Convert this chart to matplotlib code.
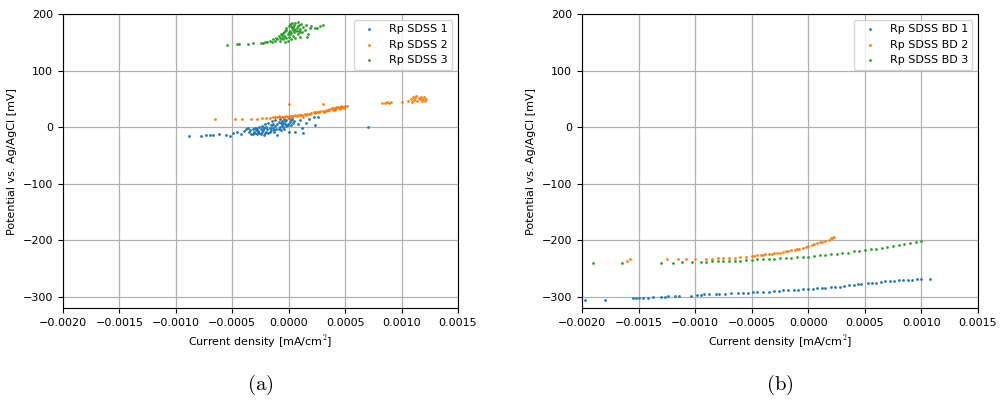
import matplotlib
matplotlib.use('Agg')
import matplotlib.pyplot as plt
import numpy as np

# Current density in units of 1e-4 mA/cm2, potential in mV
sdss1_x = [-8.8, -7.8, -7.3, -7.0, -6.7, -6.2, -5.6, -5.2, -4.9, -4.6, -4.2, -4.0, -3.8,
           -3.6, -3.5, -3.4, -3.3, -3.2, -3.1, -3.0, -3.0, -2.9, -2.8, -2.8, -2.7, -2.6,
           -2.6, -2.5, -2.4, -2.4, -2.3, -2.2, -2.2, -2.1, -2.0, -2.0, -1.9, -1.8, -1.8,
           -1.7, -1.6, -1.6, -1.5, -1.4, -1.4, -1.3, -1.2, -1.2, -1.1, -1.0, -1.0, -0.9,
           -0.8, -0.8, -0.7, -0.6, -0.6, -0.5, -0.4, -0.4, -0.3, -0.2, -0.2, -0.1, 0.0,
           0.0, 0.1, 0.2, 0.3, 0.5, 0.6, 0.8, 1.0, 1.2, 1.3, 1.5, 1.8, 2.2, 2.6, 2.3, 7.0,
           -3.2, -2.7, -2.5, -2.1, -1.7, -1.3, -0.9, -0.5, -0.1, 0.4, -2.9, -2.3, -1.5,
           -0.7, -0.3, 0.2]
sdss1_y = [-16, -15, -14, -14, -14, -13, -14, -15, -11, -8, -13, -7, -3,
           -2, -8, -5, -12, -3, -8, -1, -10, -6, -13, -3, -7, 0,
           -11, -4, -9, 2, -6, -14, -2, 5, -8, 1, -4, -11, 7,
           -1, 3, -6, 10, -2, 5, -9, 2, 12, -4, 6, -14, 9,
           1, 14, -6, 4, 11, 7, -3, 15, 10, 2, 13, 6, -8,
           16, 9, 3, 14, 11, -8, 5, 12, -2, -10, 8, 14, 18, 18, 3, 0,
           -13, -9, -12, -10, -8, -5, -3, 0, 3, 8, -1, 0, 3,
           8, 5, 12]

sdss2_x = [-6.5, -4.8, -4.1, -3.3, -2.8, -2.4, -2.0, -1.7, -1.4, -1.2, -1.0, -0.8, -0.6,
           -0.4, -0.2, 0.0, 0.2, 0.4, 0.6, 0.8, 1.0, 1.2, 1.4, 1.6, 1.8, 2.0, 2.2, 2.4,
           2.6, 2.8, 3.0, 3.2, 3.4, 3.5, 3.6, 3.7, 3.8, 3.9, 4.0, 4.1, 4.2, 4.3, 4.4,
           4.5, 4.6, 4.7, 4.8, 5.0, 5.2, 0.0, 3.0, -0.9, 1.3,
           8.3, 8.5, 8.7, 8.9, 9.1, 10.0, 10.6, 10.8, 10.9, 11.0, 11.1, 11.2, 11.3, 11.4,
           11.5, 11.6, 11.7, 11.8, 11.9, 12.0, 12.1, 12.2,
           -0.5, -0.1, 0.3, 0.7, 1.1, 1.5, 1.9, 2.3, 2.7, 3.1, 3.3, 4.1, 4.5, 4.9]
sdss2_y = [14, 14, 15, 15, 15, 16, 16, 16, 17, 17, 17, 18, 18,
           18, 19, 19, 20, 20, 21, 21, 22, 22, 23, 24, 24, 25, 26, 26,
           27, 28, 28, 29, 30, 31, 30, 32, 33, 31, 34, 32, 35, 33, 36,
           34, 37, 35, 36, 38, 37, 40, 41, 20, 18,
           43, 43, 44, 43, 44, 44, 47, 50, 45, 53, 48, 51, 55, 46,
           52, 49, 54, 47, 50, 53, 46, 49,
           17, 18, 19, 20, 21, 22, 23, 25, 26, 27, 28, 30, 32, 34]

sdss3_x = [-5.5, -4.6, -4.4, -3.6, -3.2, -2.5, -2.3, -2.1, -1.9, -1.7, -1.5, -1.4, -1.2,
           -1.1, -1.0, -0.9, -0.8, -0.7, -0.6, -0.5, -0.5, -0.4, -0.3, -0.3, -0.2, -0.2,
           -0.1, -0.1, 0.0, 0.0, 0.1, 0.1, 0.2, 0.2, 0.3, 0.3, 0.4, 0.4, 0.5, 0.5, 0.6,
           0.6, 0.7, 0.7, 0.8, 0.8, 0.9, 1.0, 1.0, 1.1, 1.2, 1.3, 1.4, 1.5, 1.7, 1.9,
           2.0, 2.3, 2.5, 2.8, 3.0, 1.6,
           -0.6, -0.4, -0.2, 0.0, 0.2, 0.4, 0.6, 0.8, 1.0, -0.8, -0.3, 0.1, 0.5, 0.9]
sdss3_y = [146, 147, 147, 147, 148, 148, 149, 150, 151, 153, 150, 156, 152,
           158, 155, 161, 152, 164, 158, 167, 155, 162, 170, 150, 158, 175,
           165, 153, 178, 160, 170, 182, 156, 166, 175, 185, 162, 172, 180, 168, 184,
           158, 176, 170, 186, 165, 180, 174, 160, 183, 168, 177, 172, 180, 165, 175,
           178, 175, 176, 178, 180, 160,
           163, 168, 172, 168, 178, 177, 172, 178, 168, 158, 160, 164, 174, 170]

bd1_x = [-19.7, -18.0, -15.5, -15.2, -15.0, -14.6, -14.2, -13.7, -13.0, -12.7, -12.4,
         -11.8, -11.4, -10.4, -9.8, -9.5, -9.2, -8.8, -8.2, -7.9, -7.4, -6.8, -6.2, -5.8,
         -5.3, -4.9, -4.5, -4.0, -3.5, -3.0, -2.6, -2.2, -1.8, -1.3, -0.9, -0.5, 0.0,
         0.4, 0.8, 1.2, 1.5, 2.0, 2.4, 2.8, 3.2, 3.6, 4.0, 4.4, 4.7, 5.3, 5.6, 6.0, 6.4,
         6.8, 7.2, 7.6, 8.0, 8.4, 8.8, 9.2, 9.6, 10.0, 10.8]
bd1_y = [-305, -305, -303, -303, -302, -302, -302, -301, -300, -300, -299,
         -299, -299, -298, -297, -297, -296, -296, -296, -295, -295, -294, -294, -293,
         -293, -292, -292, -291, -291, -290, -290, -289, -289, -288, -288, -287, -286,
         -286, -285, -284, -284, -283, -282, -282, -281, -280, -279, -278, -277, -276,
         -276, -275, -274, -273, -273, -272, -271, -271, -270, -270, -269, -268, -268]

bd2_x = [-16.0, -15.8, -12.5, -11.5, -10.8, -10.0, -9.0, -8.0, -7.0, -6.0, -5.5, -5.0,
         -4.5, -4.0, -3.5, -3.0, -2.5, -2.0, -1.5, -1.0, -0.5, 0.0, 0.5, 1.0, 1.5, 2.0,
         2.3, -8.5, -7.5, -6.5, -4.8, -4.2, -3.8, -3.2, -2.8, -2.2, -1.8, -1.2, -0.8,
         -0.2, 0.3, 0.8, 1.2, 1.8, 2.1]
bd2_y = [-236, -234, -233, -234, -233, -234, -233, -232, -231, -230, -229, -228,
         -227, -226, -225, -223, -222, -220, -218, -216, -213, -210, -207, -204, -201,
         -197, -194, -233, -232, -231, -228, -227, -225, -224, -222, -221, -219, -217,
         -215, -212, -208, -205, -203, -199, -196]

bd3_x = [-19.0, -16.5, -13.0, -12.0, -11.2, -10.3, -9.5, -9.0, -8.5, -8.0, -7.5, -7.0,
         -6.5, -6.0, -5.5, -5.0, -4.5, -4.0, -3.5, -3.0, -2.5, -2.0, -1.5, -1.0, -0.5,
         0.0, 0.5, 1.0, 1.5, 2.0, 2.5, 3.0, 3.5, 4.0, 4.5, 5.0, 5.5, 6.0, 6.5, 7.0, 7.5,
         8.0, 8.5, 9.0, 9.5, 10.0]
bd3_y = [-241, -241, -240, -240, -239, -239, -238, -238, -237, -237, -237, -236,
         -236, -236, -235, -235, -234, -234, -233, -233, -232, -231, -231, -230, -230,
         -229, -228, -227, -226, -225, -224, -223, -222, -220, -219, -218, -216, -215,
         -213, -212, -210, -209, -207, -205, -204, -202]

left_series = [(sdss1_x, sdss1_y, 'Rp SDSS 1'),
               (sdss2_x, sdss2_y, 'Rp SDSS 2'),
               (sdss3_x, sdss3_y, 'Rp SDSS 3')]
right_series = [(bd1_x, bd1_y, 'Rp SDSS BD 1'),
                (bd2_x, bd2_y, 'Rp SDSS BD 2'),
                (bd3_x, bd3_y, 'Rp SDSS BD 3')]
captions = ['(a)', '(b)']

plt.rcParams['mathtext.fontset'] = 'cm'
fig = plt.figure(figsize=(10, 4.03), dpi=100)
ax_l = fig.add_axes([0.063, 0.2357, 0.395, 0.7295])
ax_r = fig.add_axes([0.582, 0.2357, 0.396, 0.7295])

ticks = np.arange(-0.002, 0.0016, 0.0005)
for ax, series, cap in zip([ax_l, ax_r], [left_series, right_series], captions):
    for x, y, lab in series:
        ax.scatter(np.array(x) * 1e-4, y, s=4, label=lab, linewidths=0)
    ax.set_xlim(-0.002, 0.0015)
    ax.set_ylim(-320, 200)
    ax.set_xticks(ticks)
    ax.set_xticklabels([f'{v:.4f}'.replace('-', '\u2212') for v in ticks])
    ax.set_yticks([-300, -200, -100, 0, 100, 200])
    ax.tick_params(labelsize=8)
    ax.grid(True, color='#b0b0b0', linewidth=0.9)
    ax.set_axisbelow(True)
    ax.set_xlabel('Current density [mA/cm$^2$]', fontsize=8)
    ax.set_ylabel('Potential vs. Ag/AgCl [mV]', fontsize=8)
    ax.legend(loc='upper right', fontsize=8)
    ax.text(0.5, -0.26, '$\\mathrm{' + cap + '}$', transform=ax.transAxes,
            ha='center', va='center', fontsize=15)

fig.savefig('out.png', dpi=100)
